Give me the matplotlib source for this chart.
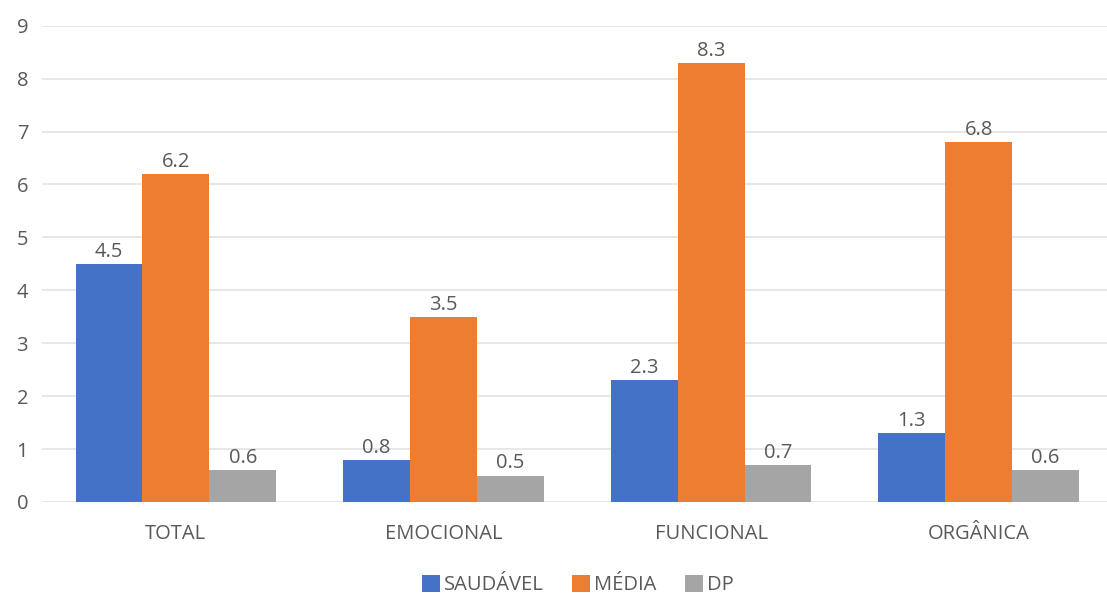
import numpy as np
import matplotlib
matplotlib.use("Agg")
import matplotlib.pyplot as plt

categories = ["TOTAL", "EMOCIONAL", "FUNCIONAL", "ORGÂNICA"]
saudavel = [4.5, 0.8, 2.3, 1.3]
media = [6.2, 3.5, 8.3, 6.8]
dp = [0.6, 0.5, 0.7, 0.6]
series_names = ["SAUDÁVEL", "MÉDIA", "DP"]
colors = ["#4472C4", "#ED7D31", "#A5A5A5"]

plt.rcParams["font.family"] = ["Open Sans", "DejaVu Sans"]
txt = "#595959"
fs = 14.5

fig = plt.figure(figsize=(11.07, 5.99), dpi=100)
ax = fig.add_axes([0.038, 0.162, 0.967, 0.795])

x = np.arange(len(categories))
w = 0.25
for i, (vals, name, c) in enumerate(zip([saudavel, media, dp], series_names, colors)):
    bars = ax.bar(x + (i - 1) * w, vals, w, color=c, label=name, zorder=3)
    for b, v in zip(bars, vals):
        ax.text(b.get_x() + b.get_width() / 2, v + 0.04, f"{v:.1f}",
                ha="center", va="bottom", fontsize=fs, color=txt, zorder=4)

ax.set_xlim(-0.5, 3.5)
ax.set_ylim(0, 9)
ax.set_yticks(range(10))
ax.set_xticks(x)
ax.set_xticklabels(categories)
ax.grid(axis="y", color="#E3E3E3", linewidth=1.2, zorder=0)
for s in ax.spines.values():
    s.set_visible(False)
ax.tick_params(axis="both", length=0, labelsize=fs, colors=txt)
ax.tick_params(axis="x", pad=16)
ax.tick_params(axis="y", pad=10)

fig.legend(loc="center", bbox_to_anchor=(0.522, 0.023), ncol=3, frameon=False,
           fontsize=fs, labelcolor=txt, handlelength=0.9, handleheight=0.9,
           handletextpad=0.2, columnspacing=1.4)

fig.savefig("out.png", dpi=100)
